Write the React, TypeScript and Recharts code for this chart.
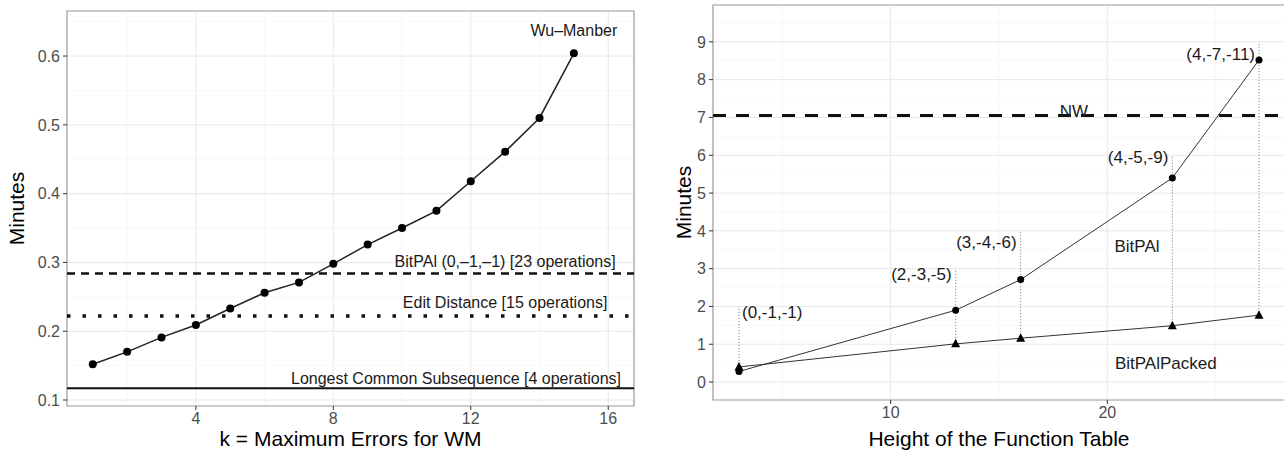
import {
  CartesianGrid,
  Label,
  Line,
  LineChart,
  ReferenceArea,
  ReferenceDot,
  ReferenceLine,
  XAxis,
  YAxis
} from "recharts";

const FONT = '"Liberation Sans", Arial, Helvetica, sans-serif';

// left panel: Wu-Manber run time against k
const kValues = [1, 2, 3, 4, 5, 6, 7, 8, 9, 10, 11, 12, 13, 14, 15];
const wuManberMinutes = [
  0.152, 0.17, 0.191, 0.209, 0.233, 0.256, 0.271, 0.298, 0.326, 0.35, 0.375, 0.418, 0.461, 0.51, 0.604
];
const bitpalFixedMinutes = 0.284;
const editDistanceMinutes = 0.222;
const lcsMinutes = 0.117;
const leftXTicks = [4, 8, 12, 16];
const leftXMinor = [2, 6, 10, 14];
const leftYTicks = [0.1, 0.2, 0.3, 0.4, 0.5, 0.6];
const leftYMinor = [0.15, 0.25, 0.35, 0.45, 0.55, 0.65];

// right panel: run time against function table height
const tableHeights = [3, 13, 16, 23, 27];
const bitpalMinutes = [0.28, 1.9, 2.71, 5.4, 8.52];
const packedMinutes = [0.4, 1.01, 1.16, 1.49, 1.77];
const nwMinutes = 7.05;
const scoreLabels = ["(0,-1,-1)", "(2,-3,-5)", "(3,-4,-6)", "(4,-5,-9)", "(4,-7,-11)"];
const scoreLabelY = [1.83, 2.84, 3.69, 5.95, 8.66];
const guideTops = [2, 3, 4, 6, 9];
const rightXTicks = [10, 20];
const rightXMinor = [5, 15, 25];
const rightYTicks = [0, 1, 2, 3, 4, 5, 6, 7, 8, 9];
const rightYMinor = [0.5, 1.5, 2.5, 3.5, 4.5, 5.5, 6.5, 7.5, 8.5, 9.5];

const leftData = kValues.map((k, i) => ({ k, wm: wuManberMinutes[i] }));
const rightData = tableHeights.map((h, i) => ({ h, bitpal: bitpalMinutes[i], packed: packedMinutes[i] }));

const leftNotes = [
  { x: 15, y: 0.637, text: "Wu–Manber" },
  { x: 13, y: 0.301, text: "BitPAl (0,–1,–1) [23 operations]" },
  { x: 13, y: 0.241, text: "Edit Distance [15 operations]" },
  { x: 11.57, y: 0.131, text: "Longest Common Subsequence [4 operations]" }
];

const rightNotes = [
  { x: 18.46, y: 7.16, text: "NW" },
  { x: 21.37, y: 3.59, text: "BitPAl" },
  { x: 22.7, y: 0.5, text: "BitPAlPacked" }
];

const tickStyle = { fill: "#4d4d4d", fontSize: 16, fontFamily: FONT };
const tickLine = { stroke: "#333", strokeWidth: 1 };

function note(text: string, anchor: "start" | "middle" | "end", dx: number, size = 16) {
  return (p: any) => (
    <text
      x={p.cx + dx}
      y={p.cy}
      dy="0.32em"
      textAnchor={anchor}
      fontSize={size}
      fontFamily={FONT}
      fill="#1a1a1a"
    >
      {text}
    </text>
  );
}

function yTitle(text: string, offset: number) {
  return (p: any) => {
    const vb = p.viewBox;
    const x = vb.x + offset;
    const y = vb.y + vb.height / 2;
    return (
      <text
        x={x}
        y={y}
        dy="0.35em"
        transform={`rotate(-90 ${x} ${y})`}
        textAnchor="middle"
        fontSize={21}
        fontFamily={FONT}
        fill="#000"
      >
        {text}
      </text>
    );
  };
}

function xTitle(text: string, offset: number) {
  return (p: any) => {
    const vb = p.viewBox;
    return (
      <text
        x={vb.x + vb.width / 2}
        y={vb.y + offset}
        dy="0.35em"
        textAnchor="middle"
        fontSize={21}
        fontFamily={FONT}
        fill="#000"
      >
        {text}
      </text>
    );
  };
}

const triangleDot = (p: any) => (
  <path
    key={`tri-${p.index}`}
    d={`M${p.cx},${p.cy - 5}L${p.cx + 4.5},${p.cy + 3.5}L${p.cx - 4.5},${p.cy + 3.5}Z`}
    fill="#000"
  />
);

function KChart() {
  const xDomain = [0.25, 16.75];
  const yDomain = [0.0913, 0.6655];
  return (
    <LineChart width={650} height={453} data={leftData} margin={{ top: 11, right: 16, bottom: 0, left: 0 }}>
      <CartesianGrid stroke="#f3f3f3" strokeWidth={0.6} horizontalValues={leftYMinor} verticalValues={leftXMinor} />
      <CartesianGrid stroke="#e8e8e8" strokeWidth={1} horizontalValues={leftYTicks} verticalValues={leftXTicks} />
      <XAxis
        type="number"
        dataKey="k"
        domain={xDomain}
        ticks={leftXTicks}
        interval={0}
        allowDataOverflow
        height={47}
        axisLine={false}
        tickLine={tickLine}
        tickSize={4}
        tickMargin={3}
        tick={tickStyle}
      >
        <Label content={xTitle("k = Maximum Errors for WM", 33)} />
      </XAxis>
      <YAxis
        type="number"
        domain={yDomain}
        ticks={leftYTicks}
        interval={0}
        allowDataOverflow
        width={67}
        axisLine={false}
        tickLine={tickLine}
        tickSize={4}
        tickMargin={3}
        tick={tickStyle}
      >
        <Label content={yTitle("Minutes", 16.7)} />
      </YAxis>
      <ReferenceLine y={bitpalFixedMinutes} stroke="#111" strokeWidth={2.5} strokeDasharray="8 6" />
      <ReferenceLine y={editDistanceMinutes} stroke="#111" strokeWidth={3.5} strokeDasharray="3.5 12" />
      <ReferenceLine y={lcsMinutes} stroke="#111" strokeWidth={2} />
      <Line
        dataKey="wm"
        stroke="#222"
        strokeWidth={1.5}
        dot={{ r: 4, fill: "#000", stroke: "#000", strokeWidth: 0 }}
        activeDot={false}
        isAnimationActive={false}
      />
      {leftNotes.map((n) => (
        <ReferenceDot key={n.text} x={n.x} y={n.y} r={0} shape={note(n.text, "middle", 0)} />
      ))}
      <ReferenceArea
        x1={xDomain[0]}
        x2={xDomain[1]}
        y1={yDomain[0]}
        y2={yDomain[1]}
        fill="none"
        stroke="#999"
        strokeWidth={1.2}
      />
    </LineChart>
  );
}

function HeightChart() {
  const xDomain = [1.8, 28.2];
  const yDomain = [-0.475, 9.975];
  return (
    <LineChart width={650} height={453} data={rightData} margin={{ top: 5, right: 15, bottom: 0, left: 0 }}>
      <CartesianGrid stroke="#f3f3f3" strokeWidth={0.6} horizontalValues={rightYMinor} verticalValues={rightXMinor} />
      <CartesianGrid stroke="#e8e8e8" strokeWidth={1} horizontalValues={rightYTicks} verticalValues={rightXTicks} />
      <XAxis
        type="number"
        dataKey="h"
        domain={xDomain}
        ticks={rightXTicks}
        interval={0}
        allowDataOverflow
        height={53}
        axisLine={false}
        tickLine={tickLine}
        tickSize={4}
        tickMargin={3}
        tick={tickStyle}
      >
        <Label content={xTitle("Height of the Function Table", 39)} />
      </XAxis>
      <YAxis
        type="number"
        domain={yDomain}
        ticks={rightYTicks}
        interval={0}
        allowDataOverflow
        width={63}
        axisLine={false}
        tickLine={tickLine}
        tickSize={4}
        tickMargin={3}
        tick={tickStyle}
      >
        <Label content={yTitle("Minutes", 34)} />
      </YAxis>
      {tableHeights.map((h, i) => (
        <ReferenceLine
          key={`guide-${h}`}
          segment={[
            { x: h, y: packedMinutes[i] },
            { x: h, y: guideTops[i] }
          ]}
          stroke="#777"
          strokeWidth={1}
          strokeDasharray="1 2"
        />
      ))}
      <ReferenceLine y={nwMinutes} stroke="#111" strokeWidth={3} strokeDasharray="13 10" />
      <Line
        dataKey="bitpal"
        stroke="#333"
        strokeWidth={1}
        dot={{ r: 3.5, fill: "#000", stroke: "#000", strokeWidth: 0 }}
        activeDot={false}
        isAnimationActive={false}
      />
      <Line
        dataKey="packed"
        stroke="#333"
        strokeWidth={1}
        dot={triangleDot}
        activeDot={false}
        isAnimationActive={false}
      />
      {tableHeights.map((h, i) => (
        <ReferenceDot
          key={scoreLabels[i]}
          x={h}
          y={scoreLabelY[i]}
          r={0}
          shape={i === 0 ? note(scoreLabels[i], "start", 3, 17) : note(scoreLabels[i], "end", -4, 17)}
        />
      ))}
      {rightNotes.map((n) => (
        <ReferenceDot key={n.text} x={n.x} y={n.y} r={0} shape={note(n.text, "middle", 0, 17)} />
      ))}
      <ReferenceArea
        x1={xDomain[0]}
        x2={xDomain[1]}
        y1={yDomain[0]}
        y2={yDomain[1]}
        fill="none"
        stroke="#999"
        strokeWidth={1.2}
      />
    </LineChart>
  );
}

export default function App() {
  return (
    <div
      style={{
        position: "fixed",
        left: 0,
        top: 0,
        width: 1284,
        height: 453,
        overflow: "hidden",
        background: "#fff",
        fontFamily: FONT
      }}
    >
      <div style={{ position: "absolute", left: 0, top: 0 }}>
        <KChart />
      </div>
      <div style={{ position: "absolute", left: 650, top: 0 }}>
        <HeightChart />
      </div>
    </div>
  );
}
